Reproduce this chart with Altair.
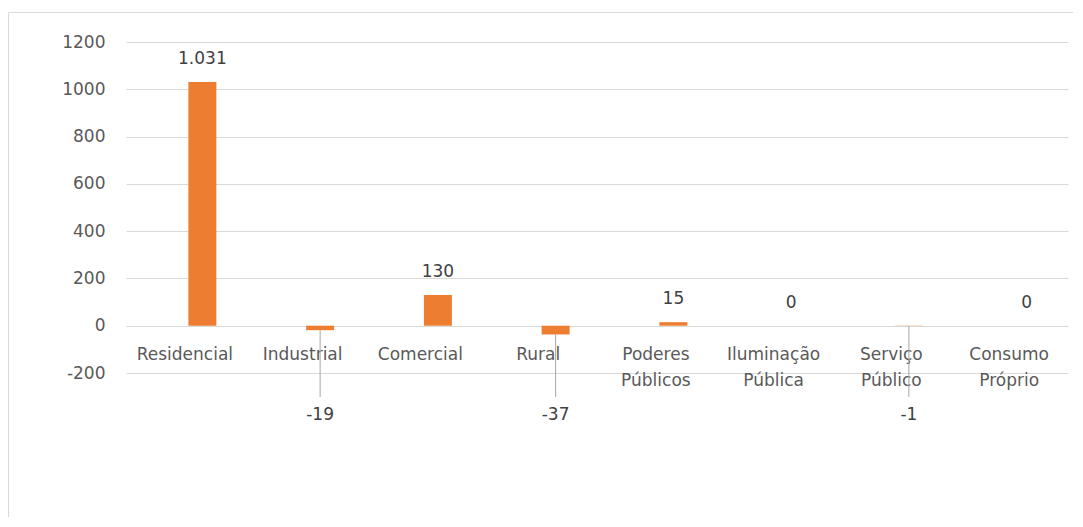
import altair as alt
import pandas as pd

categories = ["Residencial", "Industrial", "Comercial", "Rural",
              "Poderes Públicos", "Iluminação Pública", "Serviço Público", "Consumo Próprio"]
values = [1031, -19, 130, -37, 15, 0, -1, 0]
y_ticks = [-200, 0, 200, 400, 600, 800, 1000, 1200]

df = pd.DataFrame({"cat": categories, "value": values})
df["label"] = [f"{v:,}".replace(",", ".") for v in values]

FONT = "DejaVu Sans"
FS = 17
ORANGE = "#ED7D31"
BAR_OFF = 17.5

x_enc = alt.X("cat:N", sort=categories, scale=alt.Scale(paddingInner=0, paddingOuter=0),
              axis=alt.Axis(title=None, orient="bottom", offset=-47, domain=False, ticks=False,
                            tickSize=0, grid=False, labelAngle=0, labelBaseline="top",
                            labelPadding=20, labelLineHeight=26, labelFont=FONT, labelFontSize=FS,
                            labelColor="#595959", labelExpr="split(datum.label, ' ')"))
y_scale = alt.Scale(domain=[-200, 1200], nice=False, zero=False)

base = alt.Chart(df)

bars = base.mark_bar(width=28, xOffset=BAR_OFF, color=ORANGE).encode(
    x=x_enc,
    y=alt.Y("value:Q", scale=y_scale,
            axis=alt.Axis(title=None, values=y_ticks, domain=False, ticks=False, tickSize=0,
                          grid=True, gridColor="#D9D9D9", gridWidth=1,
                          labelExpr="'' + datum.value",
                          labelFont=FONT, labelFontSize=FS, labelColor="#595959",
                          labelPadding=21)),
)

pos_labels = base.transform_filter("datum.value >= 0").mark_text(
    xOffset=BAR_OFF, dy=-23, baseline="middle", align="center",
    font=FONT, fontSize=FS, color="#404040").encode(
    x=alt.X("cat:N", sort=categories),
    y=alt.Y("value:Q", scale=y_scale),
    text="label:N",
)

leaders = base.transform_filter("datum.value < 0").mark_rule(
    xOffset=BAR_OFF, color="#A6A6A6", strokeWidth=1).encode(
    x=alt.X("cat:N", sort=categories),
    y=alt.Y("value:Q", scale=y_scale),
    y2=alt.value(355),
)

neg_labels = base.transform_filter("datum.value < 0").mark_text(
    xOffset=BAR_OFF, baseline="middle", align="center",
    font=FONT, fontSize=FS, color="#404040").encode(
    x=alt.X("cat:N", sort=categories),
    y=alt.value(373),
    text="label:N",
)

frame = alt.Chart(pd.DataFrame({"a": [0]})).mark_rect(
    fillOpacity=0, stroke="#D9D9D9", strokeWidth=1).encode(
    x=alt.value(-117.5), y=alt.value(-29.5), x2=alt.value(1300), y2=alt.value(700))

chart = alt.layer(frame, bars, leaders, pos_labels, neg_labels).properties(
    width=942, height=331,
    autosize=alt.AutoSizeParams(type="none"),
    padding={"left": 118, "top": 34, "right": 5, "bottom": 144},
).configure_view(strokeWidth=0)

chart.save("out.html", embed_options={"renderer": "svg", "actions": False})
